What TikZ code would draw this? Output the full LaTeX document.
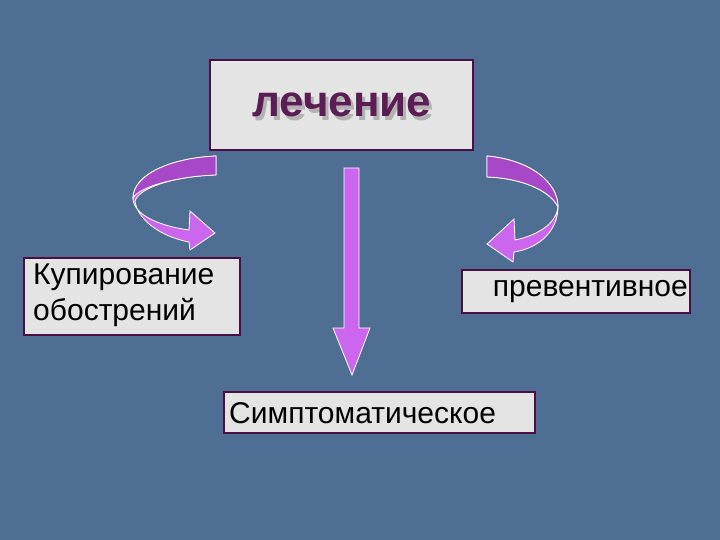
\documentclass[tikz,border=0pt]{standalone}
\usepackage{fontspec}
\setmainfont{Liberation Sans}
\definecolor{bg}{HTML}{4E6E93}
\definecolor{brd}{HTML}{4A0F45}
\definecolor{boxf}{HTML}{E4E4E4}
\definecolor{arr}{HTML}{CC66EE}
\definecolor{arrd}{HTML}{A648C8}
\definecolor{ttl}{HTML}{5A1E55}
\tikzset{
  box/.style={draw=brd,line width=2.2pt,fill=boxf,inner sep=0pt},
  lbl/.style={font=\fontsize{30}{36}\selectfont,align=left,text=black,inner sep=0pt},
  ribbon/.style={fill=arr,draw=white,line width=0.8pt}
}
\begin{document}
\begin{tikzpicture}[x=1pt,y=-1pt]
\fill[bg] (0,0) rectangle (720,540);
\useasboundingbox (0,0) rectangle (720,540);
% boxes
\node[box,minimum width=263pt,minimum height=90pt] (top) at (341.5,105) {};
\node[font=\bfseries\fontsize{44}{50}\selectfont,text=gray!60] at (345,109) {лечение};
\node[font=\bfseries\fontsize{44}{50}\selectfont,text=ttl] (ttlt) at (342,105) {лечение};
\node[box,minimum width=216pt,minimum height=77pt] (left) at (132,296.5) {};
\node[lbl,anchor=west] (lt) at (33,295) {Купирование\\обострений};
\node[box,minimum width=228pt,minimum height=43pt] (right) at (576,291.5) {};
\node[lbl,anchor=east] (rt) at (688,292) {превентивное};
\node[box,minimum width=311pt,minimum height=41pt] (bot) at (379.5,412.5) {};
\node[lbl,anchor=west] (bt) at (229,413) {Симптоматическое};
% down arrow
\draw[ribbon] (344,168) -- (359,168) -- (359,328) -- (370,328) -- (352,375) -- (333,328) -- (344,328) -- cycle;
% left curved arrow
\draw[ribbon] (216,156) .. controls (170,158) and (133,175) .. (133,198)
  .. controls (133,215) and (160,226) .. (189,230) -- (190,211) -- (215,233) -- (190,250) -- (189,242)
  .. controls (158,236) and (137,218) .. (135,201)
  .. controls (140,186) and (180,176) .. (216,175) -- cycle;
\fill[arrd] (216,156) .. controls (170,158) and (133,175) .. (133,198)
  .. controls (140,186) and (180,176) .. (216,175) -- cycle;
\draw[white,line width=0.8pt] (216,156) .. controls (170,158) and (133,175) .. (133,198)
  .. controls (140,186) and (180,176) .. (216,175) -- cycle;
% right curved arrow
\draw[ribbon] (487,156) .. controls (530,160) and (558,182) .. (558,207)
  .. controls (556,225) and (535,236) .. (515,240) -- (514,219) -- (487,244) -- (513,262) -- (514,252)
  .. controls (540,248) and (558,230) .. (558,207)
  .. controls (550,190) and (520,178) .. (487,177) -- cycle;
\fill[arrd] (487,156) .. controls (530,160) and (558,182) .. (558,207)
  .. controls (550,190) and (520,178) .. (487,177) -- cycle;
\draw[white,line width=0.8pt] (487,156) .. controls (530,160) and (558,182) .. (558,207)
  .. controls (550,190) and (520,178) .. (487,177) -- cycle;
\end{tikzpicture}
\end{document}
